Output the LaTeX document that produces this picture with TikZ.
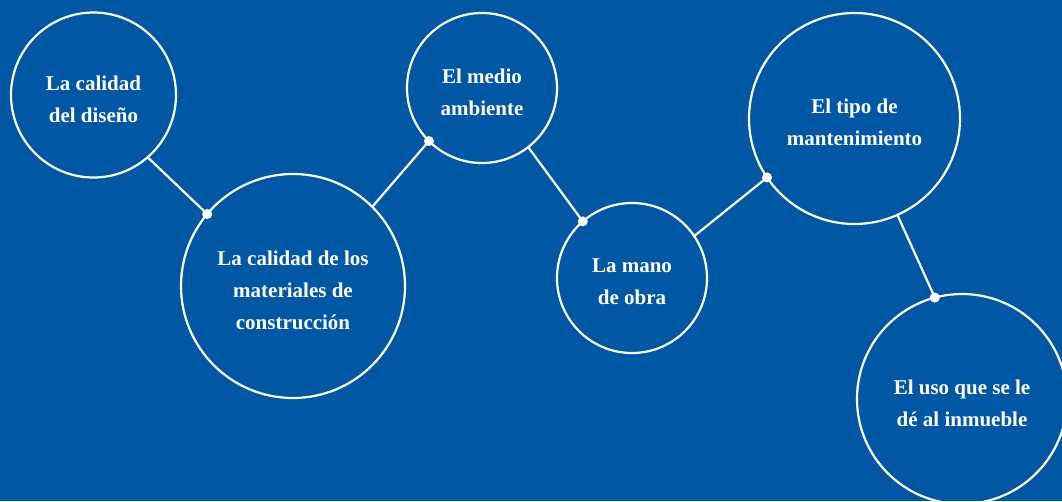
\documentclass[tikz,border=0pt]{standalone}
\usepackage{fontspec}
\setmainfont{Liberation Serif}
\usetikzlibrary{positioning}
\definecolor{bgblue}{RGB}{0,87,163}

\begin{document}
\begin{tikzpicture}[
  x=1pt, y=-1pt,
  ring/.style={circle, draw=white, line width=2.2pt, outer sep=0pt, inner sep=0pt},
  txt/.style={text=white, align=center, font=\fontsize{21}{32}\selectfont\bfseries},
  dot/.style={circle, fill=white, inner sep=0pt, minimum size=10pt},
  link/.style={draw=white, line width=2.2pt}
]
\fill[bgblue] (0,0) rectangle (1062,501);
\useasboundingbox (0,0) rectangle (1062,501);

\node[ring, minimum size=165pt] (design) at (93.5,95) {};
\node[ring, minimum size=224pt] (material) at (293,286) {};
\node[ring, minimum size=150pt] (env) at (482,88) {};
\node[ring, minimum size=150pt] (labour) at (632,278) {};
\node[ring, minimum size=211pt] (upkeep) at (854.5,118.5) {};
\node[ring, minimum size=210pt] (usage) at (962,399) {};

\node[txt] (tdesign) at ([yshift=-4pt]design) {La calidad\\del diseño};
\node[txt] (tmaterial) at ([yshift=-4pt]material) {La calidad de los\\materiales de\\construcción};
\node[txt] (tenv) at ([yshift=-4pt]env) {El medio\\ambiente};
\node[txt] (tlabour) at ([yshift=-4pt]labour) {La mano\\de obra};
\node[txt] (tupkeep) at ([yshift=-4pt]upkeep) {El tipo de\\mantenimiento};
\node[txt] (tusage) at ([yshift=-4pt]usage) {El uso que se le\\dé al inmueble};

\node[dot] (d1) at (material.140.4) {};
\node[dot] (d2) at (env.225) {};
\node[dot] (d3) at (labour.131.8) {};
\node[dot] (d4) at (upkeep.214.5) {};
\node[dot] (d5) at (usage.105) {};

\draw[link] (design.-49) -- (d1.center);
\draw[link] (material.45.7) -- (d2.center);
\draw[link] (env.-52.5) -- (d3.center);
\draw[link] (labour.34.9) -- (d4.center);
\draw[link] (upkeep.-66.4) -- (d5.center);
\end{tikzpicture}
\end{document}
